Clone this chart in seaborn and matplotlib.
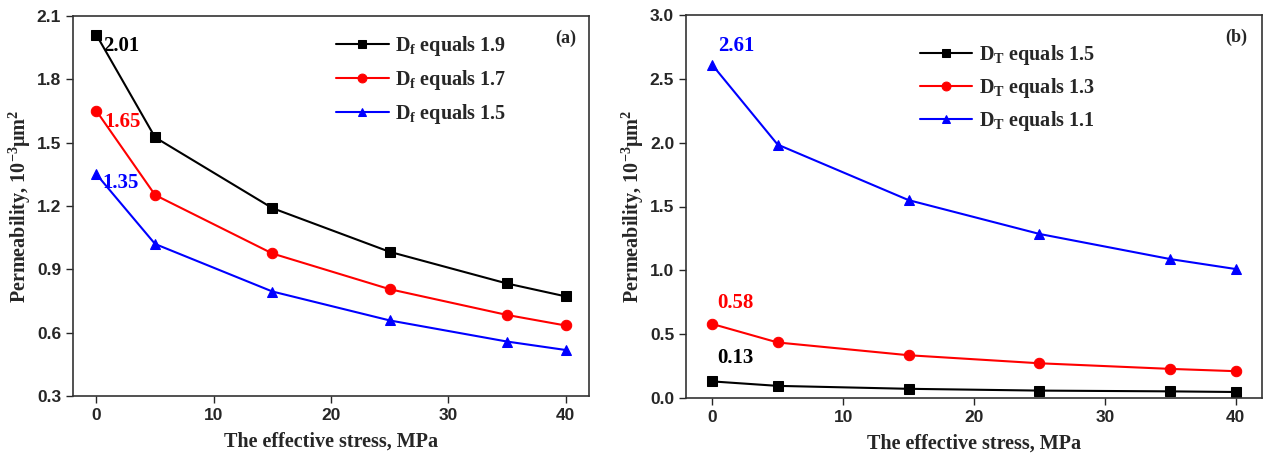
import matplotlib
matplotlib.use("Agg")
import matplotlib.pyplot as plt
import seaborn as sns
import pandas as pd

sns.set_theme(style="white")
plt.rcParams['font.family'] = ['Liberation Sans', 'DejaVu Sans']
plt.rcParams['mathtext.fontset'] = 'custom'
plt.rcParams['mathtext.rm'] = 'Liberation Serif:bold'
plt.rcParams['mathtext.it'] = 'Liberation Serif:bold'
plt.rcParams['mathtext.bf'] = 'Liberation Serif:bold'

stress = [0, 5, 15, 25, 35, 40]

# Panel (a)
a_labels = ["D$_\\mathregular{f}$ equals 1.9", "D$_\\mathregular{f}$ equals 1.7", "D$_\\mathregular{f}$ equals 1.5"]
a_df19 = [2.01, 1.525, 1.19, 0.983, 0.833, 0.772]
a_df17 = [1.65, 1.252, 0.975, 0.806, 0.684, 0.634]
a_df15 = [1.35, 1.02, 0.795, 0.658, 0.558, 0.518]

# Panel (b)
b_labels = ["D$_\\mathregular{T}$ equals 1.5", "D$_\\mathregular{T}$ equals 1.3", "D$_\\mathregular{T}$ equals 1.1"]
b_dt15 = [0.13, 0.095, 0.072, 0.058, 0.052, 0.047]
b_dt13 = [0.58, 0.435, 0.335, 0.272, 0.228, 0.21]
b_dt11 = [2.61, 1.985, 1.55, 1.285, 1.088, 1.01]

colors = ["black", "red", "blue"]
markers = ["s", "o", "^"]

fig = plt.figure(figsize=(12.64, 4.57), dpi=100)
ax1 = fig.add_axes([73/1264, 1-396/457, (589-73)/1264, (396-16)/457])
ax2 = fig.add_axes([686/1264, 1-398/457, (1262-686)/1264, (398-15)/457])

serif_bold = dict(family='Liberation Serif', weight='bold')
leg_prop = dict(family='Liberation Serif', weight='bold', size=14.5)

def draw(ax, series, labels):
    for vals, lab, c, m in zip(series, labels, colors, markers):
        df = pd.DataFrame({"x": stress, "y": vals})
        sns.lineplot(data=df, x="x", y="y", ax=ax, color=c, marker=m, markersize=7.5,
                     markeredgecolor=c, linewidth=1.5, label=lab)
    ax.set_xlim(-2, 42)
    ax.set_xticks([0, 10, 20, 30, 40])
    ax.tick_params(direction='out', length=5, width=1, labelsize=12.5, bottom=True, left=True)
    for t in ax.get_xticklabels() + ax.get_yticklabels():
        t.set_fontweight('bold')
    for s in ax.spines.values():
        s.set_color('#333333')
        s.set_linewidth(1.2)
    ax.set_xlabel("The effective stress, MPa", fontsize=14.5, labelpad=6, **serif_bold)
    ax.set_ylabel("Permeability, 10$^{-3}$μm$^{2}$", fontsize=14.5, labelpad=3, **serif_bold)

draw(ax1, [a_df19, a_df17, a_df15], a_labels)
ax1.set_ylim(0.3, 2.1)
yt1 = [0.3, 0.6, 0.9, 1.2, 1.5, 1.8, 2.1]
ax1.set_yticks(yt1)
ax1.set_yticklabels([f"{v:.1f}" for v in yt1], fontweight='bold')
ax1.legend(loc='upper left', bbox_to_anchor=(0.475, 1.0), frameon=False, prop=leg_prop,
           handlelength=2.6, labelspacing=0.5, handletextpad=0.3, markerscale=0.85)
ax1.text(0.975, 0.965, "(a)", transform=ax1.transAxes, ha='right', va='top', fontsize=13, **serif_bold)
ax1.annotate(f"{a_df19[0]:.2f}", (stress[0], a_df19[0]), xytext=(5, -1), textcoords='offset points',
             ha='left', va='top', color='black', fontsize=15, **serif_bold)
ax1.annotate(f"{a_df17[0]:.2f}", (stress[0], a_df17[0]), xytext=(6, -1), textcoords='offset points',
             ha='left', va='top', color='red', fontsize=15, **serif_bold)
ax1.annotate(f"{a_df15[0]:.2f}", (stress[0], a_df15[0]), xytext=(4, 1), textcoords='offset points',
             ha='left', va='top', color='blue', fontsize=15, **serif_bold)

draw(ax2, [b_dt15, b_dt13, b_dt11], b_labels)
ax2.set_ylim(0.0, 3.0)
yt2 = [0.0, 0.5, 1.0, 1.5, 2.0, 2.5, 3.0]
ax2.set_yticks(yt2)
ax2.set_yticklabels([f"{v:.1f}" for v in yt2], fontweight='bold')
ax2.legend(loc='upper left', bbox_to_anchor=(0.375, 0.975), frameon=False, prop=leg_prop,
           handlelength=2.6, labelspacing=0.45, handletextpad=0.3, markerscale=0.85)
ax2.text(0.975, 0.965, "(b)", transform=ax2.transAxes, ha='right', va='top', fontsize=13, **serif_bold)
ax2.annotate(f"{b_dt11[0]:.2f}", (stress[0], b_dt11[0]), xytext=(4, 6), textcoords='offset points',
             ha='left', va='bottom', color='blue', fontsize=15, **serif_bold)
ax2.annotate(f"{b_dt13[0]:.2f}", (stress[0], b_dt13[0]), xytext=(4, 8), textcoords='offset points',
             ha='left', va='bottom', color='red', fontsize=15, **serif_bold)
ax2.annotate(f"{b_dt15[0]:.2f}", (stress[0], b_dt15[0]), xytext=(4, 10), textcoords='offset points',
             ha='left', va='bottom', color='black', fontsize=15, **serif_bold)

fig.savefig("out.png", dpi=100)
